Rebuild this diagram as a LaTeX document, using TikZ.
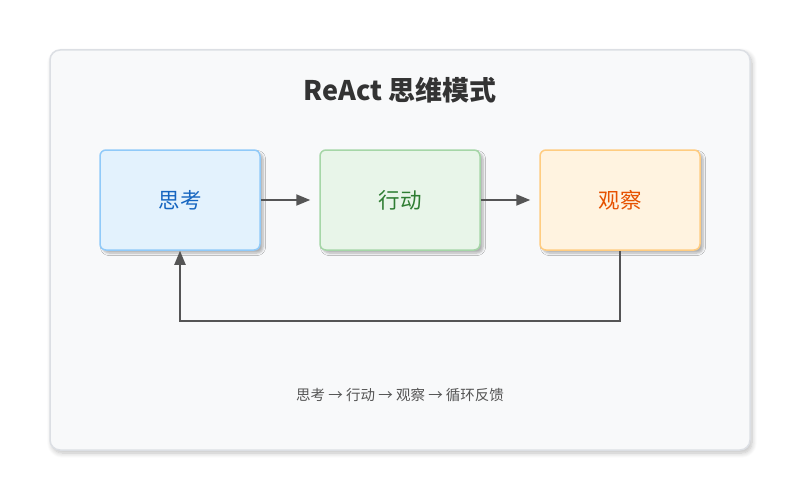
\documentclass[tikz,border=0pt]{standalone}
\usepackage{fontspec}
\setmainfont{Noto Sans CJK SC}
\usetikzlibrary{arrows.meta,shadows.blur}
\definecolor{panelbg}{HTML}{F8F9FA}
\definecolor{panelbd}{HTML}{DCDFE4}
\definecolor{bgA}{HTML}{E3F2FD}\definecolor{bdA}{HTML}{90CAF9}\definecolor{txA}{HTML}{1565C0}
\definecolor{bgB}{HTML}{E8F5E9}\definecolor{bdB}{HTML}{A5D6A7}\definecolor{txB}{HTML}{2E7D32}
\definecolor{bgC}{HTML}{FFF3E0}\definecolor{bdC}{HTML}{FFCC80}\definecolor{txC}{HTML}{E65100}
\definecolor{linec}{HTML}{555555}
\definecolor{titlec}{HTML}{333333}
\tikzset{
  panel/.style={draw=panelbd, line width=1.5pt, fill=panelbg, rounded corners=10pt,
    minimum width=700pt, minimum height=400pt, inner sep=0pt,
    blur shadow={shadow xshift=2pt, shadow yshift=-3pt, shadow blur steps=8, shadow blur radius=5pt, shadow opacity=25}},
  stepbox/.style={line width=1.5pt, rounded corners=6pt, minimum width=160pt, minimum height=100pt,
    inner sep=0pt, font=\fontsize{21.5pt}{25pt}\selectfont,
    blur shadow={shadow xshift=3pt, shadow yshift=-3pt, shadow blur steps=5, shadow blur radius=2.5pt, shadow opacity=30}},
  conn/.style={draw=linec, line width=2pt, -{Triangle[length=14pt,width=11pt]}}
}
\begin{document}
\begin{tikzpicture}[x=1pt,y=-1pt]
\useasboundingbox (0,0) rectangle (800,500);
\node[panel] (panel) at (400,250) {};
\node[text=titlec, font=\fontsize{27pt}{31pt}\selectfont\bfseries] (title) at (400,90) {ReAct 思维模式};
\node[stepbox, draw=bdA, fill=bgA, text=txA] (think) at (180,200) {思考};
\node[stepbox, draw=bdB, fill=bgB, text=txB] (act) at (400,200) {行动};
\node[stepbox, draw=bdC, fill=bgC, text=txC] (obs) at (620,200) {观察};
\draw[conn, shorten >=9pt] (think.east) -- (act.west);
\draw[conn, shorten >=9pt] (act.east) -- (obs.west);
\draw[conn] (obs.south) -- ++(0,70) -| (think.south);
\node[text=linec, font=\fontsize{14.5pt}{17pt}\selectfont] (caption) at (400,395) {思考 → 行动 → 观察 → 循环反馈};
\end{tikzpicture}
\end{document}
